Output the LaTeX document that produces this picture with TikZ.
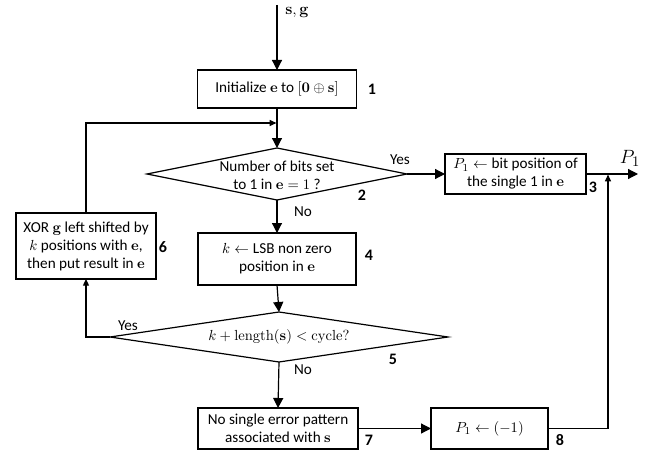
\documentclass[tikz,border=0pt]{standalone}
\usepackage[no-math]{fontspec}
\setmainfont{Carlito}
\usetikzlibrary{shapes.geometric,arrows.meta,calc}
\begin{document}
\begin{tikzpicture}[x=0.75pt,y=-0.75pt,
  every node/.style={font=\fontsize{11.4}{13.5}\selectfont},
  box/.style={draw,line width=0.9pt,rectangle,inner sep=0pt,align=center,outer sep=0pt},
  dia/.style={draw,line width=0.9pt,diamond,inner sep=0pt,outer sep=0pt},
  num/.style={font=\fontsize{12}{14}\selectfont\bfseries},
  lbl/.style={font=\fontsize{11.4}{13}\selectfont},
  conn/.style={line width=0.9pt},
  arr/.style={conn,-{Triangle[length=7.5pt,width=7.5pt]}},
  arrs/.style={conn,-{Triangle[length=5pt,width=4.5pt]}}]
\useasboundingbox (0,0) rectangle (650,453);

% nodes
\node[box,minimum width=119.25pt,minimum height=28.5pt] (b1) at (277,89) {Initialize $\mathbf{e}$ to $[\mathbf{0}\oplus\mathbf{s}]$};
\node[dia,minimum width=195pt,minimum height=39pt] (d1) at (277,174) {};
\node[align=center] (t1) at (277,175) {Number of bits set\\to 1 in $\mathbf{e}=1$ ?};
\node[box,minimum width=105.75pt,minimum height=30pt] (b3) at (515.5,174) {$P_1\leftarrow{}$bit position of\\the single 1 in $\mathbf{e}$};
\node[box,minimum width=118.5pt,minimum height=39pt] (b4) at (277,259) {$k\leftarrow{}$LSB non zero\\position in $\mathbf{e}$};
\node[dia,minimum width=253.5pt,minimum height=37.5pt] (d2) at (279,337) {};
\node (t2) at (279,337) {$k+\mathrm{length}(\mathbf{s})<\mathrm{cycle?}$};
\node[box,minimum width=105pt,minimum height=49.5pt] (b6) at (86,246) {XOR $\mathbf{g}$ left shifted by\\$k$ positions with $\mathbf{e}$,\\then put result in $\mathbf{e}$};
\node[box,minimum width=120pt,minimum height=30.75pt] (b7) at (278,428.5) {No single error pattern\\associated with $\mathbf{s}$};
\node[box,minimum width=87.75pt,minimum height=30.75pt] (b8) at (489.5,428.5) {$P_1\leftarrow(-1)$};

% coordinates
\coordinate (in) at (277,5);
\coordinate (merge) at (277,123);
\coordinate (out) at (638,174);
\coordinate (join) at (608,174);

% numbers
\node[num] (n1) at (372,89) {1};
\node[num] (n2) at (362,195) {2};
\node[num] (n3) at (593,187) {3};
\node[num] (n4) at (369,255) {4};
\node[num] (n5) at (393,359) {5};
\node[num] (n6) at (163,247) {6};
\node[num] (n7) at (369,440) {7};
\node[num] (n8) at (560,440) {8};

% labels
\node (sg) at (297,13) {\fontsize{13}{15}\selectfont$\mathbf{s},\mathbf{g}$};
\node (p1) at (630,158) {\fontsize{15}{17}\selectfont$P_1$};
\node[lbl] (y1) at (400,160) {Yes};
\node[lbl] (no1) at (303,212) {No};
\node[lbl] (y2) at (128,326) {Yes};
\node[lbl] (no2) at (303,370) {No};

% connectors
\draw[arr] (in) -- (b1.north);
\draw[arr] (b1.south) -- (d1.north);
\draw[arrs,shorten >=0.45pt] (b6.north) |- (merge);
\draw[arr] (d1.east) -- (b3.west);
\draw[arr] (b3.east) -- (out);
\draw[arr] (d1.south) -- (b4.north);
\draw[arr] (b4.south) -- (d2.north);
\draw[arrs] (d2.west) -| (b6.south);
\draw[arr] (d2.south) -- (b7.north);
\draw[arr] (b7.east) -- (b8.west);
\draw[arrs,shorten >=0.45pt] (b8.east) -| (join);
\end{tikzpicture}
\end{document}
